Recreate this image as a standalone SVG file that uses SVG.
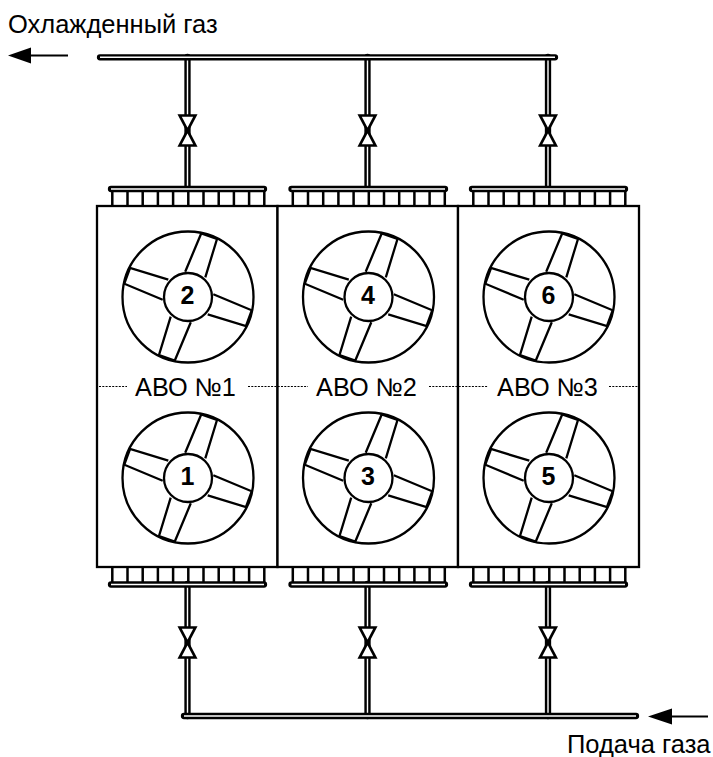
<svg xmlns="http://www.w3.org/2000/svg" width="713" height="757" viewBox="0 0 713 757">
<style>
text{font-family:"Liberation Sans",Arial,sans-serif;fill:#000}
.lbl{font-size:25.500px}
.num{font-size:25px;font-weight:bold;text-anchor:middle}
.abo{font-size:25.300px;text-anchor:middle}
.s{fill:none;stroke:#000;stroke-width:2.300}
.o{fill:none;stroke:#000;stroke-width:6.300;stroke-linecap:round}
.oi{fill:none;stroke:#fff;stroke-width:1.400}
.v{fill:#fff;stroke:#000;stroke-width:2.700;stroke-linejoin:miter}
.box{fill:#fff;stroke:#000;stroke-width:2.300}
.dot{fill:none;stroke:#000;stroke-width:1.100;stroke-dasharray:2 1.300}
.thin{fill:none;stroke:#000;stroke-width:2.500}
</style>
<defs>
<g id="fan">
<circle r="65.500" fill="#fff" stroke="#000" stroke-width="2.300"/>
<g class="s">
<path d="M-2.800-25.300L13.300-63.700L29-58L17.300-19.700"/>
<path d="M-2.800-25.300L13.300-63.700L29-58L17.300-19.700" transform="rotate(90)"/>
<path d="M-2.800-25.300L13.300-63.700L29-58L17.300-19.700" transform="rotate(180)"/>
<path d="M-2.800-25.300L13.300-63.700L29-58L17.300-19.700" transform="rotate(270)"/>
</g>
<circle r="24" fill="#fff" stroke="#000" stroke-width="2.300"/>
</g>
<path id="tickrow" class="thin" d="M112.300 0V15M127.500 0V15M142.700 0V15M157.900 0V15M173.100 0V15M188.300 0V15M203.500 0V15M218.700 0V15M233.900 0V15M249.100 0V15M264.300 0V15"/>
<path id="valve" class="v" d="M-7.800-15H7.800L-7.800 15H7.800Z"/>
</defs>

<g id="connectors">
<path class="o" d="M187.500 57V187M367.500 57V187M548 57V187M187.500 584V716M367.500 584V716M548 584V716"/>
<path class="oi" d="M187.500 60V187M367.500 60V187M548 60V187M187.500 587V713M367.500 587V713M548 587V713"/>
<path class="o" d="M100 57.300H555M111 189H264M291.500 189H445M472 189H625M111 584.500H264M291.500 584.500H445M472 584.500H625M184 716H636"/>
<path class="oi" d="M100 57.300H555M111 189H264M291.500 189H445M472 189H625M111 584.500H264M291.500 584.500H445M472 584.500H625M184 716H636"/>
<path d="M68 55.500H28" fill="none" stroke="#000" stroke-width="2"/>
<path d="M8 55.500L31 47.500V63.500Z"/>
<path d="M708 716.500H668" fill="none" stroke="#000" stroke-width="2"/>
<path d="M648 716.500L672 708.500V724.500Z"/>
</g>

<g id="valves">
<use href="#valve" x="187.500" y="130.500"/>
<use href="#valve" x="367.500" y="130.500"/>
<use href="#valve" x="548" y="130.500"/>
<use href="#valve" x="187.500" y="642.500"/>
<use href="#valve" x="367.500" y="642.500"/>
<use href="#valve" x="548" y="642.500"/>
</g>

<g id="tubes">
<use href="#tickrow" y="191"/>
<use href="#tickrow" x="180.500" y="191"/>
<use href="#tickrow" x="361" y="191"/>
<use href="#tickrow" y="567"/>
<use href="#tickrow" x="180.500" y="567"/>
<use href="#tickrow" x="361" y="567"/>
</g>

<g id="avo1"><rect class="box" x="97" y="206" width="180.500" height="361"/></g>
<g id="avo2"><rect class="box" x="277.500" y="206" width="180.500" height="361"/></g>
<g id="avo3"><rect class="box" x="458" y="206" width="181" height="361"/></g>

<g id="fan2"><use href="#fan" x="188" y="297"/><text class="num" x="187.500" y="304">2</text></g>
<g id="fan4"><use href="#fan" x="368.500" y="297"/><text class="num" x="368" y="304">4</text></g>
<g id="fan6"><use href="#fan" x="549" y="297"/><text class="num" x="548.500" y="304">6</text></g>
<g id="fan1"><use href="#fan" x="188" y="478"/><text class="num" x="187.500" y="485">1</text></g>
<g id="fan3"><use href="#fan" x="368.500" y="478"/><text class="num" x="368" y="485">3</text></g>
<g id="fan5"><use href="#fan" x="549" y="478"/><text class="num" x="548.500" y="485">5</text></g>

<g id="labels">
<path class="dot" d="M99 386.500H127M248 386.500H308M429 386.500H488M609 386.500H638"/>
<text class="abo" x="185.500" y="395.500">АВО №1</text>
<text class="abo" x="366.500" y="395.500">АВО №2</text>
<text class="abo" x="547.500" y="395.500">АВО №3</text>
<text class="lbl" x="8" y="33">Охлажденный газ</text>
<text class="lbl" x="567" y="753">Подача газа</text>
</g>
</svg>
